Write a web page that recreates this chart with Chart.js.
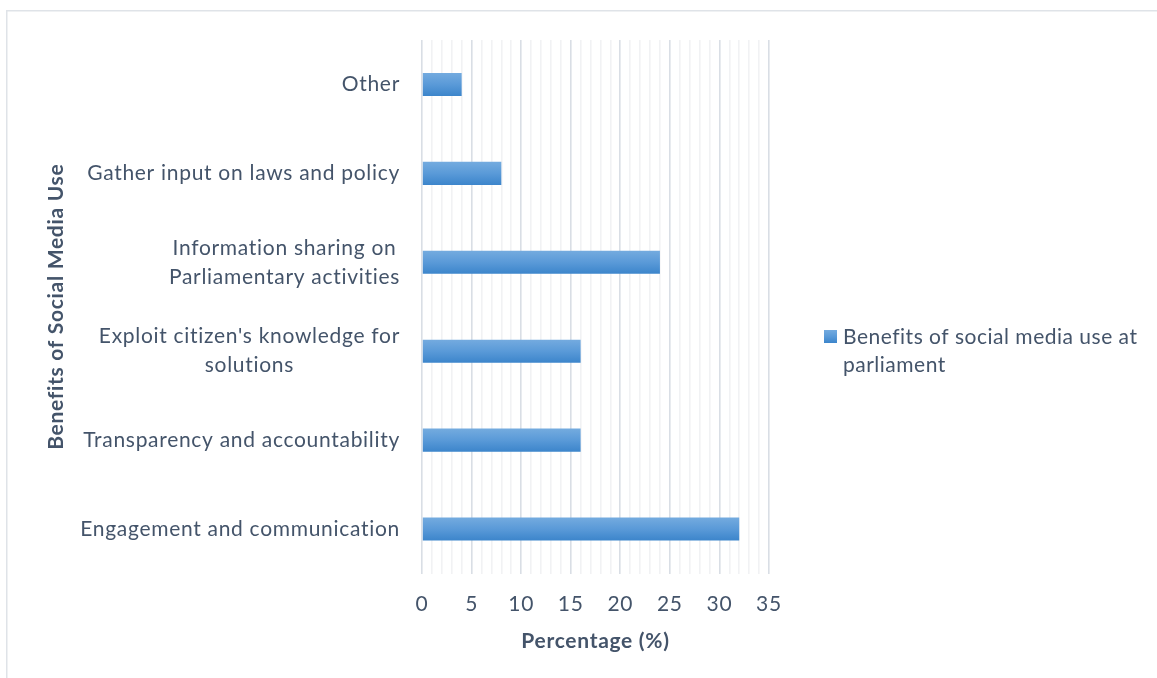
<!DOCTYPE html>
<html>
<head>
<meta charset="utf-8">
<script src="https://cdn.jsdelivr.net/npm/chart.js@4/dist/chart.umd.min.js"></script>
<style>
  html, body { margin: 0; padding: 0; background: #ffffff; }
  #wrap { width: 1157px; height: 678px; position: relative; }
</style>
</head>
<body>
<div id="wrap"><canvas id="chart" width="1157" height="678"></canvas></div>
<script>
// Benefit categories (top to bottom), each as its wrapped lines
const categories = [
  ['Other'],
  ['Gather input on laws and policy'],
  ['Information sharing on', 'Parliamentary activities'],
  ["Exploit citizen's knowledge for", 'solutions'],
  ['Transparency and accountability'],
  ['Engagement and communication']
];
// Share of respondents (%)
const percentages = [4, 8, 24, 16, 16, 32];
const seriesName = 'Benefits of social media use at parliament';
const legendLines = ['Benefits of social media use at', 'parliament'];
const xTitle = 'Percentage (%)';
const yTitle = 'Benefits of Social Media Use';
const xMin = 0, xMax = 35, xMajorStep = 5;

const FONT = 'Lato';
const TEXT = '#44546a';
const BAR_TOP = '#74abdf';
const BAR_BOTTOM = '#3c85cb';
const BAR_PCT = 0.26;

function barGradient(ctx, y0, y1) {
  const g = ctx.createLinearGradient(0, y0, 0, y1);
  g.addColorStop(0, BAR_TOP);
  g.addColorStop(0.5, '#5a9ad8');
  g.addColorStop(1, BAR_BOTTOM);
  return g;
}

const decor = {
  id: 'decor',
  beforeDraw(chart) {
    const ctx = chart.ctx;
    // slightly open tracking for all text (also turns off fi/ti ligatures)
    ctx.letterSpacing = '0.7px';
    ctx.save();
    ctx.strokeStyle = '#dfe3e8';
    ctx.lineWidth = 1.5;
    ctx.beginPath();
    ctx.moveTo(6.75, 678);
    ctx.lineTo(6.75, 10.75);
    ctx.lineTo(1157, 10.75);
    ctx.stroke();
    ctx.restore();
  },
  afterDraw(chart) {
    const ctx = chart.ctx;
    const y = chart.scales.y;
    ctx.save();
    ctx.fillStyle = TEXT;
    ctx.font = '21px ' + FONT;
    ctx.textBaseline = 'middle';
    ctx.textAlign = 'center';
    const right = y.right - 22;
    const lh = 29;
    categories.forEach((lines, i) => {
      const cy = y.getPixelForValue(i);
      const w = Math.max(...lines.map(l => ctx.measureText(l).width));
      const cx = right - w / 2;
      lines.forEach((line, j) => {
        ctx.fillText(line, cx, cy + (j - (lines.length - 1) / 2) * lh);
      });
    });
    // legend
    const lx = 824, ly = 330;
    ctx.fillStyle = barGradient(ctx, ly, ly + 13);
    ctx.fillRect(lx, ly, 13, 13);
    ctx.fillStyle = TEXT;
    ctx.textAlign = 'left';
    ctx.letterSpacing = '0.5px';
    legendLines.forEach((line, j) => ctx.fillText(line, 843, 337 + j * 28));
    ctx.restore();
  }
};

new Chart(document.getElementById('chart'), {
  type: 'bar',
  data: {
    labels: categories,
    datasets: [{
      label: seriesName,
      data: percentages,
      categoryPercentage: 1,
      barPercentage: BAR_PCT,
      borderWidth: 0,
      backgroundColor(c) {
        const chart = c.chart;
        const y = chart.scales && chart.scales.y;
        if (!y || c.type !== 'data' || !chart.chartArea) return BAR_BOTTOM;
        const cy = y.getPixelForValue(c.dataIndex);
        const half = (y.height / categories.length) * BAR_PCT / 2;
        if (!isFinite(cy) || !isFinite(half)) return BAR_BOTTOM;
        return barGradient(chart.ctx, cy - half, cy + half);
      }
    }]
  },
  options: {
    indexAxis: 'y',
    responsive: false,
    animation: false,
    events: [],
    layout: { padding: { top: 40, right: 388, bottom: 0, left: 0 } },
    plugins: { legend: { display: false }, tooltip: { enabled: false } },
    scales: {
      x: {
        min: xMin,
        max: xMax,
        afterFit(s) { s.height = 104.5; },
        border: { display: false },
        grid: {
          drawTicks: false,
          lineWidth: 1.6,
          color: c => (c.tick && c.tick.value % xMajorStep === 0) ? '#d9dee5' : '#f1f2f4'
        },
        ticks: {
          stepSize: 1,
          autoSkip: false,
          maxTicksLimit: 100,
          maxRotation: 0,
          padding: 18,
          color: TEXT,
          font: { family: FONT, size: 21 },
          callback: v => (v % xMajorStep === 0 ? String(v) : '')
        },
        title: {
          display: true,
          text: xTitle,
          color: TEXT,
          font: { family: FONT, size: 21, weight: 'bold' },
          padding: { top: 0, bottom: 24 }
        }
      },
      y: {
        afterFit(s) { s.width = 422; },
        border: { display: false },
        grid: { display: false },
        ticks: { display: false },
        title: {
          display: true,
          text: yTitle,
          color: TEXT,
          font: { family: FONT, size: 21, weight: 'bold' },
          padding: { top: 44, bottom: 0 }
        }
      }
    }
  },
  plugins: [decor]
});
</script>
</body>
</html>
